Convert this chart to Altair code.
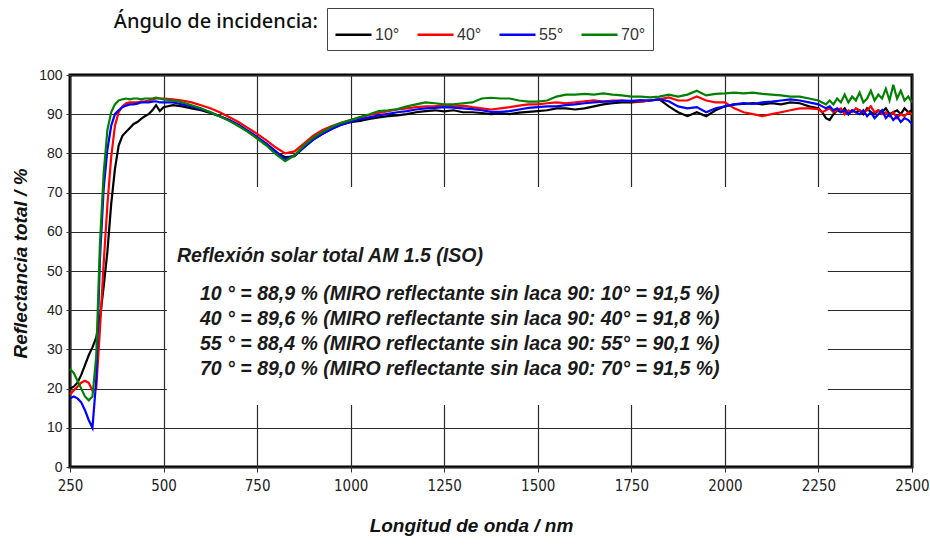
import altair as alt
import pandas as pd

# Wavelength sampling (nm): fine in the UV edge, coarser across the visible/NIR,
# finer again in the noisy tail of the spectrum.
wl_uv = [250, 260, 270, 280, 290, 300, 310, 320, 330, 340, 350, 360, 370,
         380, 390, 400, 410, 420, 430, 440, 450, 460, 470, 480, 490, 500]
wl_mid = [525, 550, 575, 600, 625, 650, 675, 700, 725, 750, 775, 800, 825,
          850, 875, 900, 925, 950, 975, 1000, 1025, 1050, 1075, 1100, 1125,
          1150, 1175, 1200, 1225, 1250, 1275, 1300, 1325, 1350, 1375, 1400,
          1425, 1450, 1475, 1500, 1525, 1550, 1575, 1600, 1625, 1650, 1675,
          1700, 1725, 1750, 1775, 1800, 1825, 1850, 1875, 1900, 1925, 1950,
          1975, 2000, 2025, 2050, 2075, 2100, 2125, 2150, 2175, 2200, 2225, 2250]
wl_tail = [2260, 2270, 2280, 2290, 2300, 2310, 2320, 2330, 2340, 2350, 2360,
           2370, 2380, 2390, 2400, 2410, 2420, 2430, 2440, 2450, 2460, 2470,
           2480, 2490, 2500]
wavelength = wl_uv + wl_mid + wl_tail

# Total reflectance (%) for each angle of incidence
r10 = [20, 20.5, 21.5, 23.5, 26, 28.5, 30.5, 33, 38, 46, 55, 67, 76, 82, 84.5,
       85.5, 86.5, 87.5, 88, 88.8, 89.5, 90, 91, 92.3, 90.8, 91.8,
       92.3, 92, 91.5, 91, 90.3, 89.5, 88.5, 87.2, 85.6, 84, 82.3, 80.3, 79,
       79.3, 81.5, 83.5, 85, 86.3, 87.3, 88, 88.3, 88.8, 89.2, 89.5, 89.7,
       90, 90.5, 90.8, 91, 90.7, 91, 90.5, 90.5, 90.3, 90, 90.2,
       90, 90.4, 90.6, 90.8, 91, 91.5, 91.5, 91.2, 91.5, 92, 92.5,
       92.8, 93, 93, 93.2, 93.5, 93.8, 92, 90.5, 89.5, 90.5, 89.5,
       91, 92, 92.5, 92.6, 92.8, 92.5, 92.8, 92.5, 93, 92.8, 92, 91.5,
       90.5, 89, 88.5, 90, 91, 90.5, 91.5, 90, 91, 90.5, 91, 90, 91.5,
       90.5, 90, 91, 90.5, 91.5, 90, 90.5, 91, 90, 91.5, 90.5, 91]
r40 = [18.5, 19.5, 20.5, 21.5, 22, 21.5, 19.5, 20, 35, 52, 67, 79, 87, 90.5,
       92, 92.8, 93, 93, 93, 93.2, 93.3, 93.5, 93.8, 94, 94, 94,
       93.8, 93.5, 93, 92.3, 91.5, 90.5, 89.3, 88, 86.5, 85, 83.3, 81.5, 80,
       80.5, 82.5, 84.5, 86, 87, 87.8, 88.5, 89.2, 89.8, 90.3, 90.8, 91.2,
       91.5, 91.8, 92, 92, 92.3, 92, 92.2, 91.8, 91.5, 91.2, 91.5,
       91.8, 92.2, 92.5, 92.5, 92.8, 93, 92.8, 93, 93.3, 93.5, 93.2,
       93.5, 93.5, 93.3, 93.2, 93.5, 93.8, 94.3, 93.5, 93.5, 94.5, 93.5,
       93, 93, 91.5, 90.5, 90, 89.5, 90, 90.5, 91, 91.5, 91.5, 91.3,
       90.5, 91, 91.5, 90.5, 91, 91.5, 90, 91, 90.5, 91.5, 91, 90.5, 91,
       92, 90.5, 91, 90, 90.5, 89.5, 90.5, 89, 90, 89.5, 90.5, 90]
r55 = [17.5, 18, 17.5, 16.5, 14.5, 12, 10, 22, 53, 71, 81, 87, 90, 91, 91.8,
       92.2, 92.5, 92.5, 92.7, 93, 93, 93, 93.2, 93.3, 93, 93,
       93, 92.5, 92, 91.3, 90.5, 89.5, 88.5, 87.3, 85.8, 84.2, 82.5, 80.5,
       78.5, 79.5, 81.5, 83.5, 85, 86.3, 87.3, 88, 88.7, 89.2, 89.7, 90.1,
       90.5, 90.8, 91.2, 91.5, 91.6, 91.8, 91.7, 91.5, 91.3, 91, 90.6, 90.6,
       90.8, 91.2, 91.6, 91.8, 92, 92, 92.3, 92.5, 92.8, 93, 93.2,
       93.2, 93.5, 93.4, 93.6, 93.5, 93.8, 93.3, 92, 91.5, 91.8, 90.5,
       91.5, 92, 92.5, 92.8, 92.6, 93, 93.2, 93.5, 93.8, 93.5, 93, 92.5,
       92, 91.5, 92, 91, 91.5, 90.5, 91, 90, 91, 90.5, 90, 91, 89.5, 90.5,
       89, 90, 91, 89, 90, 88.5, 89.5, 88, 89, 88.5, 87.5]
r70 = [25, 24, 22, 20, 18, 17, 18, 28, 57, 75, 86, 90.5, 92.5, 93.5, 93.8,
       94, 93.8, 94, 94, 93.8, 94, 94, 94, 94.2, 94, 93.8,
       93.5, 93, 92.3, 91.5, 90.5, 89.5, 88.3, 87, 85.5, 83.8, 82, 79.8, 78,
       79.5, 82, 84, 85.5, 86.8, 87.8, 88.5, 89.3, 90, 90.8, 91, 91.3,
       92, 92.5, 93, 92.8, 92.5, 92.5, 92.8, 93, 94, 94.2, 94,
       94, 93.5, 93.2, 93.2, 93.5, 94.5, 95, 95, 95.2, 95, 95.3,
       95, 94.8, 94.5, 94.5, 94.3, 94.5, 95, 94.5, 95, 96, 94.8,
       95.2, 95.3, 95.5, 95.3, 95.5, 95.2, 95, 94.8, 94.5, 94.5, 94, 93.5,
       93, 92.5, 93.5, 92.5, 94, 93, 95, 93, 94.5, 93.5, 95.5, 93, 94,
       96, 93.5, 95, 94, 96.5, 93.5, 97.5, 94, 96, 93.5, 94.5, 93]

angles = ["10°", "40°", "55°", "70°"]
colors = ["#000000", "#ff0000", "#0000ff", "#008000"]
series = [r10, r40, r55, r70]

summary_title = "Reflexión solar total AM 1.5 (ISO)"
summary_lines = [
    "10 ° = 88,9 % (MIRO reflectante sin laca 90: 10° = 91,5 %)",
    "40 ° = 89,6 % (MIRO reflectante sin laca 90: 40° = 91,8 %)",
    "55 ° = 88,4 % (MIRO reflectante sin laca 90: 55° = 90,1 %)",
    "70 ° = 89,0 % (MIRO reflectante sin laca 90: 70° = 91,5 %)",
]

x_ticks = [250, 500, 750, 1000, 1250, 1500, 1750, 2000, 2250, 2500]
y_ticks = [0, 10, 20, 30, 40, 50, 60, 70, 80, 90, 100]

for s in series:
    assert len(s) == len(wavelength), len(s)

rows = []
for k, (ang, vals) in enumerate(zip(angles, series)):
    for w, r in zip(wavelength, vals):
        rows.append({"wl": w, "refl": r, "angulo": ang, "orden": k})
df = pd.DataFrame(rows)

FONT = "Liberation Sans"

x_scale = alt.Scale(domain=[250, 2500], nice=False, zero=False)
y_scale = alt.Scale(domain=[0, 100], nice=False)

x_axis = alt.Axis(
    values=x_ticks, format="d", grid=True, gridColor="#2a2a2a", gridWidth=1.2,
    gridOpacity=1, domain=False, ticks=True, tickColor="#333", tickSize=5,
    tickWidth=1, labelFont="DejaVu Sans Condensed", labelFontSize=15,
    labelColor="#222", labelPadding=6, labelFlush=False,
    title="Longitud de onda / nm", titleFont=FONT, titleFontSize=19,
    titleFontStyle="italic", titleFontWeight="bold", titleColor="#111",
    titleX=401, titleY=58, titleBaseline="middle",
)
y_axis = alt.Axis(
    values=y_ticks, grid=True, gridColor="#2a2a2a", gridWidth=1.2, gridOpacity=1,
    domain=False, ticks=True, tickColor="#333", tickSize=4, tickWidth=1,
    labelFont=FONT, labelFontSize=14, labelColor="#222", labelPadding=4,
    labelFlush=False,
    title="Reflectancia total  / %", titleFont=FONT, titleFontSize=19,
    titleFontStyle="italic", titleFontWeight="bold", titleColor="#111",
    titleX=-50, titleY=188, titleAlign="center", titleBaseline="middle",
)

# White panel that holds the integrated reflectance summary (covers the grid)
panel = alt.Chart(
    pd.DataFrame({"x": [509], "x2": [2275], "y": [15.8], "y2": [71.4]})
).mark_rect(fill="white").encode(
    x=alt.X("x:Q", scale=x_scale, axis=x_axis),
    x2="x2:Q",
    y=alt.Y("y:Q", scale=y_scale, axis=y_axis),
    y2="y2:Q",
)

lines = alt.Chart(df).mark_line(strokeWidth=2.2, interpolate="linear").encode(
    x=alt.X("wl:Q", scale=x_scale, axis=x_axis),
    y=alt.Y("refl:Q", scale=y_scale, axis=y_axis),
    color=alt.Color(
        "angulo:N",
        scale=alt.Scale(domain=angles, range=colors),
        legend=alt.Legend(
            title=None, orient="none", legendX=257, legendY=-67,
            direction="horizontal", columns=4, symbolType="stroke",
            symbolSize=1300, symbolStrokeWidth=2.5, labelFont=FONT,
            labelFontSize=16, labelColor="#333", labelOffset=2,
            columnPadding=12, padding=7, strokeColor="#444",
            fillColor="white",
        ),
    ),
    order="orden:Q",
)

text_style = dict(font=FONT, fontSize=19.5, fontStyle="italic", fontWeight="bold",
                  color="#1a1a1a", align="left", baseline="middle")

texts = [
    alt.Chart(pd.DataFrame({"t": [summary_title]})).mark_text(**text_style).encode(
        text="t:N", x=alt.value(107), y=alt.value(181)
    )
]
for i, line in enumerate(summary_lines):
    texts.append(
        alt.Chart(pd.DataFrame({"t": [line]})).mark_text(**text_style).encode(
            text="t:N", x=alt.value(130), y=alt.value(219 + 25 * i)
        )
    )

legend_label = alt.Chart(pd.DataFrame({"t": ["Ángulo de incidencia:"]})).mark_text(
    font="Noto Sans", fontSize=20, fontWeight=500, color="#111",
    align="right", baseline="middle",
).encode(text="t:N", x=alt.value(248), y=alt.value(-53))

chart = alt.layer(panel, lines, *texts, legend_label).properties(
    width=842,
    height=392,
    autosize=alt.AutoSizeParams(type="none"),
    padding={"left": 70, "top": 75, "right": 18, "bottom": 78},
    background="white",
).configure_view(
    stroke="black", strokeWidth=3
)

chart.save("out.html", embed_options={"renderer": "svg", "actions": False})
